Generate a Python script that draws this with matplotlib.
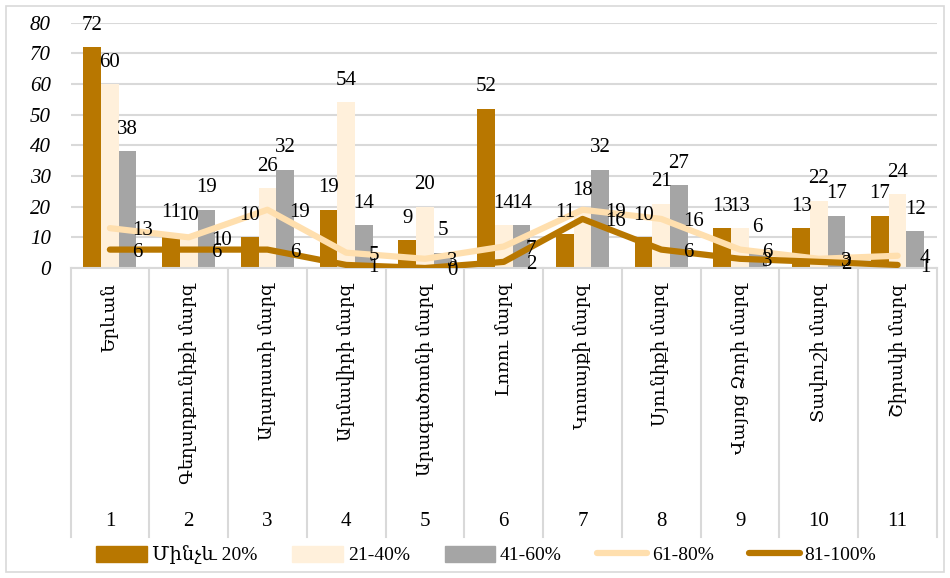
import numpy as np
import matplotlib.pyplot as plt
from matplotlib.patches import Rectangle
from matplotlib.lines import Line2D

# data
regions = ['Երևան', 'Գեղարքունիքի մարզ', 'Արարատի մարզ', 'Արմավիրի մարզ',
           'Արագածոտնի մարզ', 'Լոռու մարզ', 'Կոտայքի մարզ', 'Սյունիքի մարզ',
           'Վայոց Ձորի մարզ', 'Տավուշի մարզ', 'Շիրակի մարզ']
region_nums = [str(i) for i in range(1, 12)]

upto20 = [72, 11, 10, 19, 9, 52, 11, 10, 13, 13, 17]
p21_40 = [60, 10, 26, 54, 20, 14, 18, 21, 13, 22, 24]
p41_60 = [38, 19, 32, 14, 5, 14, 32, 27, 6, 17, 12]
p61_80 = [13, 10, 19, 5, 3, 7, 19, 16, 6, 3, 4]
p81_100 = [6, 6, 6, 1, 0, 2, 16, 6, 3, 2, 1]

names = ['Մինչև 20%', '21-40%', '41-60%', '61-80%', '81-100%']

c_dark = '#B87700'
c_cream = '#FFF0DB'
c_grey = '#A5A5A5'
c_peach = '#FFDFAE'
grid_c = '#D9D9D9'

plt.rcParams['font.family'] = ['Liberation Serif', 'DejaVu Serif', 'DejaVu Sans']

W, H = 950, 578
fig = plt.figure(figsize=(W / 100, H / 100), dpi=100)

# plot area in pixels
x0, x1 = 70.5, 937
y_top, y_bot = 22.7, 268
ax = fig.add_axes([x0 / W, 1 - y_bot / H, (x1 - x0) / W, (y_bot - y_top) / H])

n = len(regions)
x = np.arange(n)
bw = 0.225

bars = [(upto20, c_dark), (p21_40, c_cream), (p41_60, c_grey)]
for k, (vals, col) in enumerate(bars):
    pos = x + (k - 1) * bw
    ax.bar(pos, vals, bw, color=col, zorder=2)
    for xi, v in zip(pos, vals):
        ax.annotate(str(v), (xi, v), xytext=(0, 9), textcoords='offset points',
                    ha='center', va='bottom', fontsize=15, zorder=5)

for vals, col in [(p61_80, c_peach), (p81_100, c_dark)]:
    ax.plot(x, vals, color=col, lw=4.5, solid_capstyle='round',
            solid_joinstyle='round', zorder=3)
    for xi, v in zip(x, vals):
        ax.annotate(str(v), (xi, v), xytext=(16, -2), textcoords='offset points',
                    ha='left', va='center', fontsize=15, zorder=5)

ax.set_xlim(-0.5, n - 0.5)
ax.set_ylim(0, 80)
ax.set_yticks(range(0, 81, 10))
ax.set_yticklabels([str(v) for v in range(0, 81, 10)], fontstyle='italic', fontsize=15)
ax.tick_params(axis='y', length=0, pad=14)
ax.set_xticks([])
ax.grid(axis='y', color=grid_c, lw=1.5, zorder=0)
for s in ['top', 'right', 'left']:
    ax.spines[s].set_visible(False)
ax.spines['bottom'].set_color(grid_c)
ax.spines['bottom'].set_linewidth(1.5)

# multi-level category axis
trans = ax.get_xaxis_transform()
sep_bottom = (y_bot - 537) / (y_bot - y_top)
for b in np.arange(-0.5, n, 1.0):
    ax.plot([b, b], [0, sep_bottom], transform=trans, color=grid_c, lw=1.5,
            clip_on=False, zorder=1)
name_y = (y_bot - 283) / (y_bot - y_top)
num_y = (y_bot - 522) / (y_bot - y_top)
for xi, name, num in zip(x, regions, region_nums):
    ax.text(xi, name_y, name, transform=trans, rotation=90, ha='center', va='top',
            fontsize=13)
    ax.text(xi, num_y, num, transform=trans, ha='center', va='center', fontsize=15)

# legend
handles = [Rectangle((0, 0), 1, 1, color=c_dark),
           Rectangle((0, 0), 1, 1, color=c_cream),
           Rectangle((0, 0), 1, 1, color=c_grey),
           Line2D([], [], color=c_peach, lw=4.5, solid_capstyle='round'),
           Line2D([], [], color=c_dark, lw=4.5, solid_capstyle='round')]
fig.legend(handles, names, loc='center', bbox_to_anchor=(0.512, 1 - 555 / H),
           ncol=5, frameon=False, fontsize=14, handlelength=2.6, handleheight=0.9,
           handletextpad=0.25, columnspacing=1.8, borderaxespad=0)

# outer border
fig.patches.append(Rectangle((6 / W, 6 / H), 1 - 12 / W, 1 - 12 / H,
                             transform=fig.transFigure, fill=False,
                             edgecolor=grid_c, lw=1.2))

fig.savefig('out.png', dpi=100)
